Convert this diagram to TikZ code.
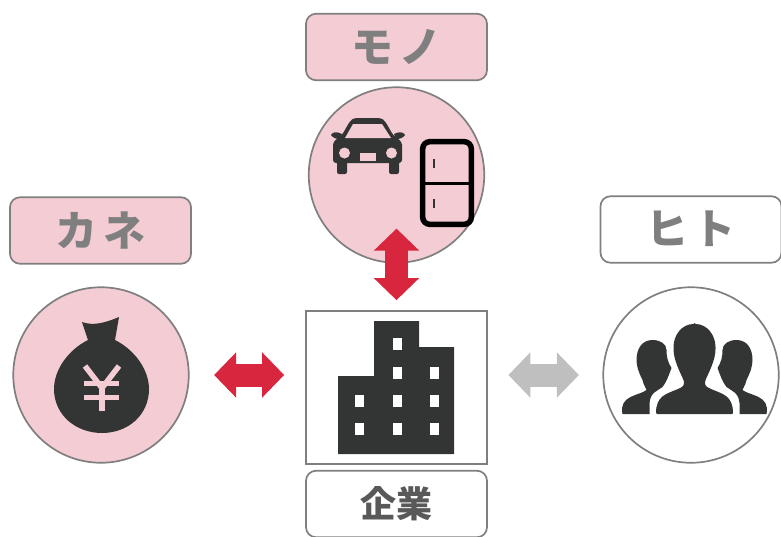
\documentclass[tikz,border=0pt]{standalone}
\usepackage{fontspec}
\usepackage{tikz}
\usetikzlibrary{arrows.meta}
\newfontfamily\jpfont{Noto Sans CJK JP}
\definecolor{pinkfill}{HTML}{F4CCD3}
\definecolor{edgegray}{HTML}{7F7F7F}
\definecolor{icondark}{HTML}{333534}
\definecolor{arrowred}{HTML}{D9263F}
\definecolor{arrowgray}{HTML}{BFBFBF}
\tikzset{
    tag/.style={draw=edgegray,line width=1.7pt,rounded corners=10pt,minimum width=181pt,minimum height=66.5pt,inner sep=0pt,text=edgegray,font=\jpfont\bfseries\fontsize{42}{42}\selectfont},
    ring/.style={draw=edgegray,line width=1.7pt,circle,minimum size=175.5pt,inner sep=0pt},
    bigarrow/.style={<->,line width=23pt},
}
\begin{document}
\begin{tikzpicture}[x=1pt,y=-1pt,>={Triangle[length=22pt,width=44pt]}]
    \useasboundingbox (0,0) rectangle (781,536);
    \node[tag,fill=pinkfill,text depth=3pt] (MonoTag) at (396.5,47) {モ\kern6ptノ};
    \node[tag,fill=pinkfill,text depth=3pt] (KaneTag) at (100.5,230.5) {カ\kern6ptネ};
    \node[tag,text depth=3pt] (HitoTag) at (691,229.5) {ヒ\kern6ptト};
    \node[tag,text=black!65,font=\jpfont\bfseries\fontsize{36}{36}\selectfont] (KigyoTag) at (396.5,504) {企業};
    
    \node[ring,fill=pinkfill] (Mono) at (396.5,175) {};
    \node[ring,fill=pinkfill] (Kane) at (101,375) {};
    \node[ring] (Hito) at (691,375) {};
    \node[draw=edgegray,line width=1.7pt,minimum width=181pt,minimum height=153pt,inner sep=0pt] (Kigyo) at (396.5,387.5) {};
    
    \fill[icondark] (374,321) -- (419,321) -- (419,347) -- (454,347) -- (454,454) -- (338,454) -- (338,376) -- (374,376) -- cycle;
    \foreach \wx/\wy in {397/344,397/373,434/373,359/401,397/401,434/401,359/429,397/429,434/429}
        \fill[white] (\wx-4.5,\wy-6) rectangle (\wx+4.5,\wy+6);
    
    \fill[icondark,rounded corners=3pt] (333,163) -- (333,142) -- (342,135) -- (350,121) -- (354,118) -- (381,118) -- (385,121) -- (393,135) -- (402,142) -- (402,163) -- cycle;
    \fill[pinkfill] (345,138) -- (353,124) -- (382,124) -- (391,138) -- cycle;
    \fill[icondark,rounded corners=2pt] (337,160) rectangle (347,174);
    \fill[icondark,rounded corners=2pt] (389,160) rectangle (399,174);
    \fill[icondark] (331,135) .. controls (333,131) and (338,132) .. (342,134) -- (340,139) .. controls (336,139) and (333,138) .. (331,135) -- cycle;
    \fill[icondark] (405,135) .. controls (403,131) and (398,132) .. (394,134) -- (396,139) .. controls (400,139) and (403,138) .. (405,135) -- cycle;
    \fill[pinkfill] (344.5,153) circle[radius=5.5];
    \fill[pinkfill] (391.5,153) circle[radius=5.5];
    \fill[pinkfill] (360,153) rectangle (376,161);
    
    \draw[black,line width=5.5pt,rounded corners=7pt] (422.7,141.7) rectangle (471.3,224.3);
    \draw[black,line width=3pt] (422.5,183) -- (471.5,183);
    \draw[black!80,line width=2.5pt] (434,159) -- (434,168);
    \draw[black!80,line width=2.5pt] (434,199) -- (434,208);
    
    \fill[icondark] (88,340) -- (82,322) .. controls (93,326) and (105,323) .. (119,317) -- (115,340) .. controls (135,350) and (149,370) .. (149,389) .. controls (149,415) and (128,433) .. (102,433) .. controls (76,433) and (54,415) .. (54,389) .. controls (54,370) and (68,350) .. (88,340) -- cycle;
    \draw[pinkfill,line width=5.5pt] (85,366) -- (102,388) -- (119,366);
    \draw[pinkfill,line width=5.5pt] (102,388) -- (102,411);
    \draw[pinkfill,line width=5pt] (84,383) -- (119,383);
    \draw[pinkfill,line width=5pt] (84,397) -- (119,397);
    
    \fill[icondark,rounded corners=1pt] (694.5,324) .. controls (707,324) and (715.5,335) .. (715.5,348) .. controls (715.5,360) and (709,372) .. (705.5,380) .. controls (704,386) and (707,387) .. (711,389) .. controls (723,394) and (733,396) .. (733,414) -- (656,414) .. controls (656,396) and (666,394) .. (678,389) .. controls (682,387) and (685,386) .. (683.5,380) .. controls (680,372) and (673.5,360) .. (673.5,348) .. controls (673.5,335) and (682,324) .. (694.5,324) -- cycle;
    \foreach \side in {1,-1}
        \fill[icondark,xshift=694.5pt,xscale=\side] (-72,414) .. controls (-74,405) and (-70,400) .. (-64,397) .. controls (-58,394) and (-52,393) .. (-48,390) .. controls (-50,385) and (-52,383) .. (-52,380) .. controls (-56,372) and (-58,366) .. (-58,360) .. controls (-58,348) and (-52,340) .. (-42,340) .. controls (-34,340) and (-28,344) .. (-28,350) .. controls (-28,356) and (-27,362) .. (-23,368) .. controls (-26,376) and (-28,382) .. (-32,387) .. controls (-37,391) and (-44,392) .. (-45,403) -- (-45,414) -- cycle;
    
    \draw[bigarrow,arrowred,shorten <=-35pt,shorten >=10pt] (Mono) -- (Kigyo);
    \draw[bigarrow,arrowred,shorten <=24.5pt,shorten >=21pt] (Kane) -- (Kigyo.west |- Kane);
    \draw[bigarrow,arrowgray,shorten <=20.5pt,shorten >=23.5pt] (Kigyo.east |- Hito) -- (Hito);
\end{tikzpicture}
\end{document}
